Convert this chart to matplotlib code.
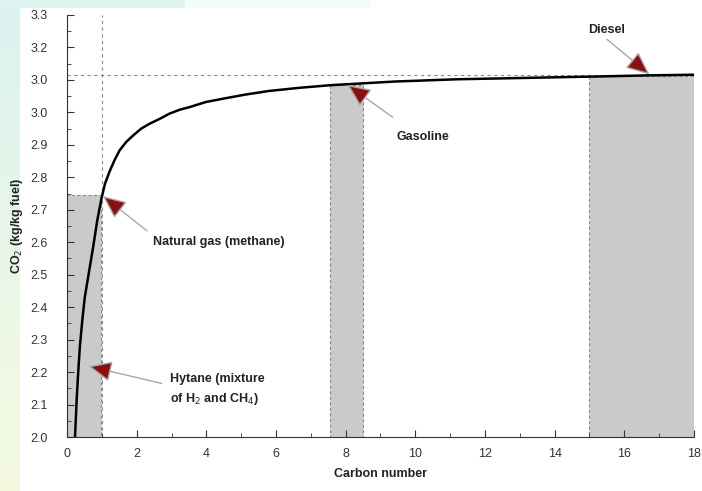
import numpy as np
import matplotlib
matplotlib.use("Agg")
import matplotlib.pyplot as plt
from matplotlib.ticker import MultipleLocator

plt.rcParams["font.family"] = ["Liberation Sans", "DejaVu Sans"]

# ---- data ----
carbon_n = [0.23, 0.28, 0.32, 0.37, 0.44, 0.51, 0.64, 0.75, 0.87, 0.99,
            1.09, 1.23, 1.37, 1.51, 1.70, 1.90, 2.13, 2.37, 2.66, 2.94,
            3.23, 3.51, 3.99, 4.47, 5.13, 5.80, 6.70, 7.60, 9.40, 11.2,
            12.6, 14.0, 15.4, 16.7, 18.0]
co2_per_kg = [2.000, 2.120, 2.196, 2.280, 2.360, 2.430, 2.514, 2.585, 2.668, 2.735,
              2.780, 2.820, 2.854, 2.883, 2.909, 2.929, 2.950, 2.965, 2.980, 2.996,
              3.008, 3.016, 3.032, 3.042, 3.055, 3.066, 3.076, 3.084, 3.095, 3.102,
              3.105, 3.108, 3.111, 3.114, 3.116]

# shaded fuel ranges: (x0, x1, top)
fuel_bands = [(0.0, 0.97, 2.745), (7.55, 8.5, 3.085), (15.0, 18.0, 3.113)]

y_ticks = [2.0, 2.1, 2.2, 2.3, 2.4, 2.5, 2.6, 2.7, 2.8, 2.9, 3.0, 3.1, 3.2, 3.3]
y_tick_labels = ["2.0", "2.1", "2.2", "2.3", "2.4", "2.5", "2.6", "2.7",
                 "2.8", "2.9", "3.0", "3.0", "3.2", "3.3"]
asymptote = 3.115

# labels: text, text pos, arrow tail, arrow tip
callouts = [
    ("Natural gas (methane)", (2.46, 2.60), (2.30, 2.635), (1.03, 2.742)),
    ("Hytane (mixture\nof H$_2$ and CH$_4$)", (2.95, 2.145), (2.72, 2.165), (0.62, 2.218)),
    ("Gasoline", (9.45, 2.925), (9.35, 2.985), (8.05, 3.085)),
    ("Diesel", (14.95, 3.255), (15.5, 3.225), (16.72, 3.117)),
]

fig = plt.figure(figsize=(7.02, 4.91), dpi=100, facecolor="white")

# faint background strips of the original slide
bg = fig.add_axes([0, 0, 1, 1], zorder=-5)
bg.set_axis_off()
grad = np.linspace(0, 1, 256)[:, None]
left_cols = np.array([[0.86, 0.95, 0.94]]) * (1 - grad) + np.array([[0.96, 0.98, 0.88]]) * grad
bg.imshow(left_cols[:, None, :], extent=[0, 20 / 702, 0, 1], aspect="auto",
          transform=bg.transAxes)
bg.imshow(np.array([[[0.88, 0.96, 0.95], [0.95, 0.99, 0.98]]]),
          extent=[0, 370 / 702, 1 - 8 / 491, 1], aspect="auto", transform=bg.transAxes)
bg.set_xlim(0, 1)
bg.set_ylim(0, 1)

ax = fig.add_axes([67 / 702, 54 / 491, 627 / 702, 422 / 491])
ax.set_facecolor("none")

for x0, x1, top in fuel_bands:
    ax.fill_between([x0, x1], 2.0, top, facecolor="#cacaca", edgecolor="#8a8a8a",
                    linestyle=(0, (3, 2)), linewidth=0.8, zorder=1)

ax.axvline(1.0, color="#8a8a8a", linestyle=(0, (3, 3)), linewidth=0.8, zorder=1)
ax.axhline(asymptote, color="#8a8a8a", linestyle=(0, (3, 3)), linewidth=0.8, zorder=1)

ax.plot(carbon_n, co2_per_kg, color="black", linewidth=1.8, zorder=3,
        solid_joinstyle="round")

for text, tpos, tail, tip in callouts:
    ax.annotate("", xy=tip, xytext=tail,
                arrowprops=dict(arrowstyle="-|>,head_length=0.9,head_width=0.4",
                                facecolor="#8c0f0f", edgecolor="#a8a8a8", lw=1.0,
                                mutation_scale=16, shrinkA=0, shrinkB=0),
                zorder=4)
    ax.text(tpos[0], tpos[1], text, fontsize=9, fontweight="bold", color="#222222",
            ha="left", va="center", linespacing=1.5)

ax.set_xlim(0, 18)
ax.set_ylim(2.0, 3.3)
ax.set_xticks(range(0, 19, 2))
ax.xaxis.set_minor_locator(MultipleLocator(1))
ax.set_yticks(y_ticks)
ax.set_yticklabels(y_tick_labels)
ax.yaxis.set_minor_locator(MultipleLocator(0.05))
ax.tick_params(which="both", direction="in", colors="#333333", labelsize=9, pad=8)
ax.tick_params(which="major", length=5)
ax.tick_params(which="minor", length=3)
ax.tick_params(axis="y", pad=14)
for s in ["top", "right"]:
    ax.spines[s].set_visible(False)
for s in ["left", "bottom"]:
    ax.spines[s].set_color("#333333")

ax.set_xlabel("Carbon number", fontsize=9, fontweight="bold", color="#222222", labelpad=6)
ax.set_ylabel("CO$_2$ (kg/kg fuel)", fontsize=9, fontweight="bold", color="#222222", labelpad=4)

fig.savefig("out.png", dpi=100)
